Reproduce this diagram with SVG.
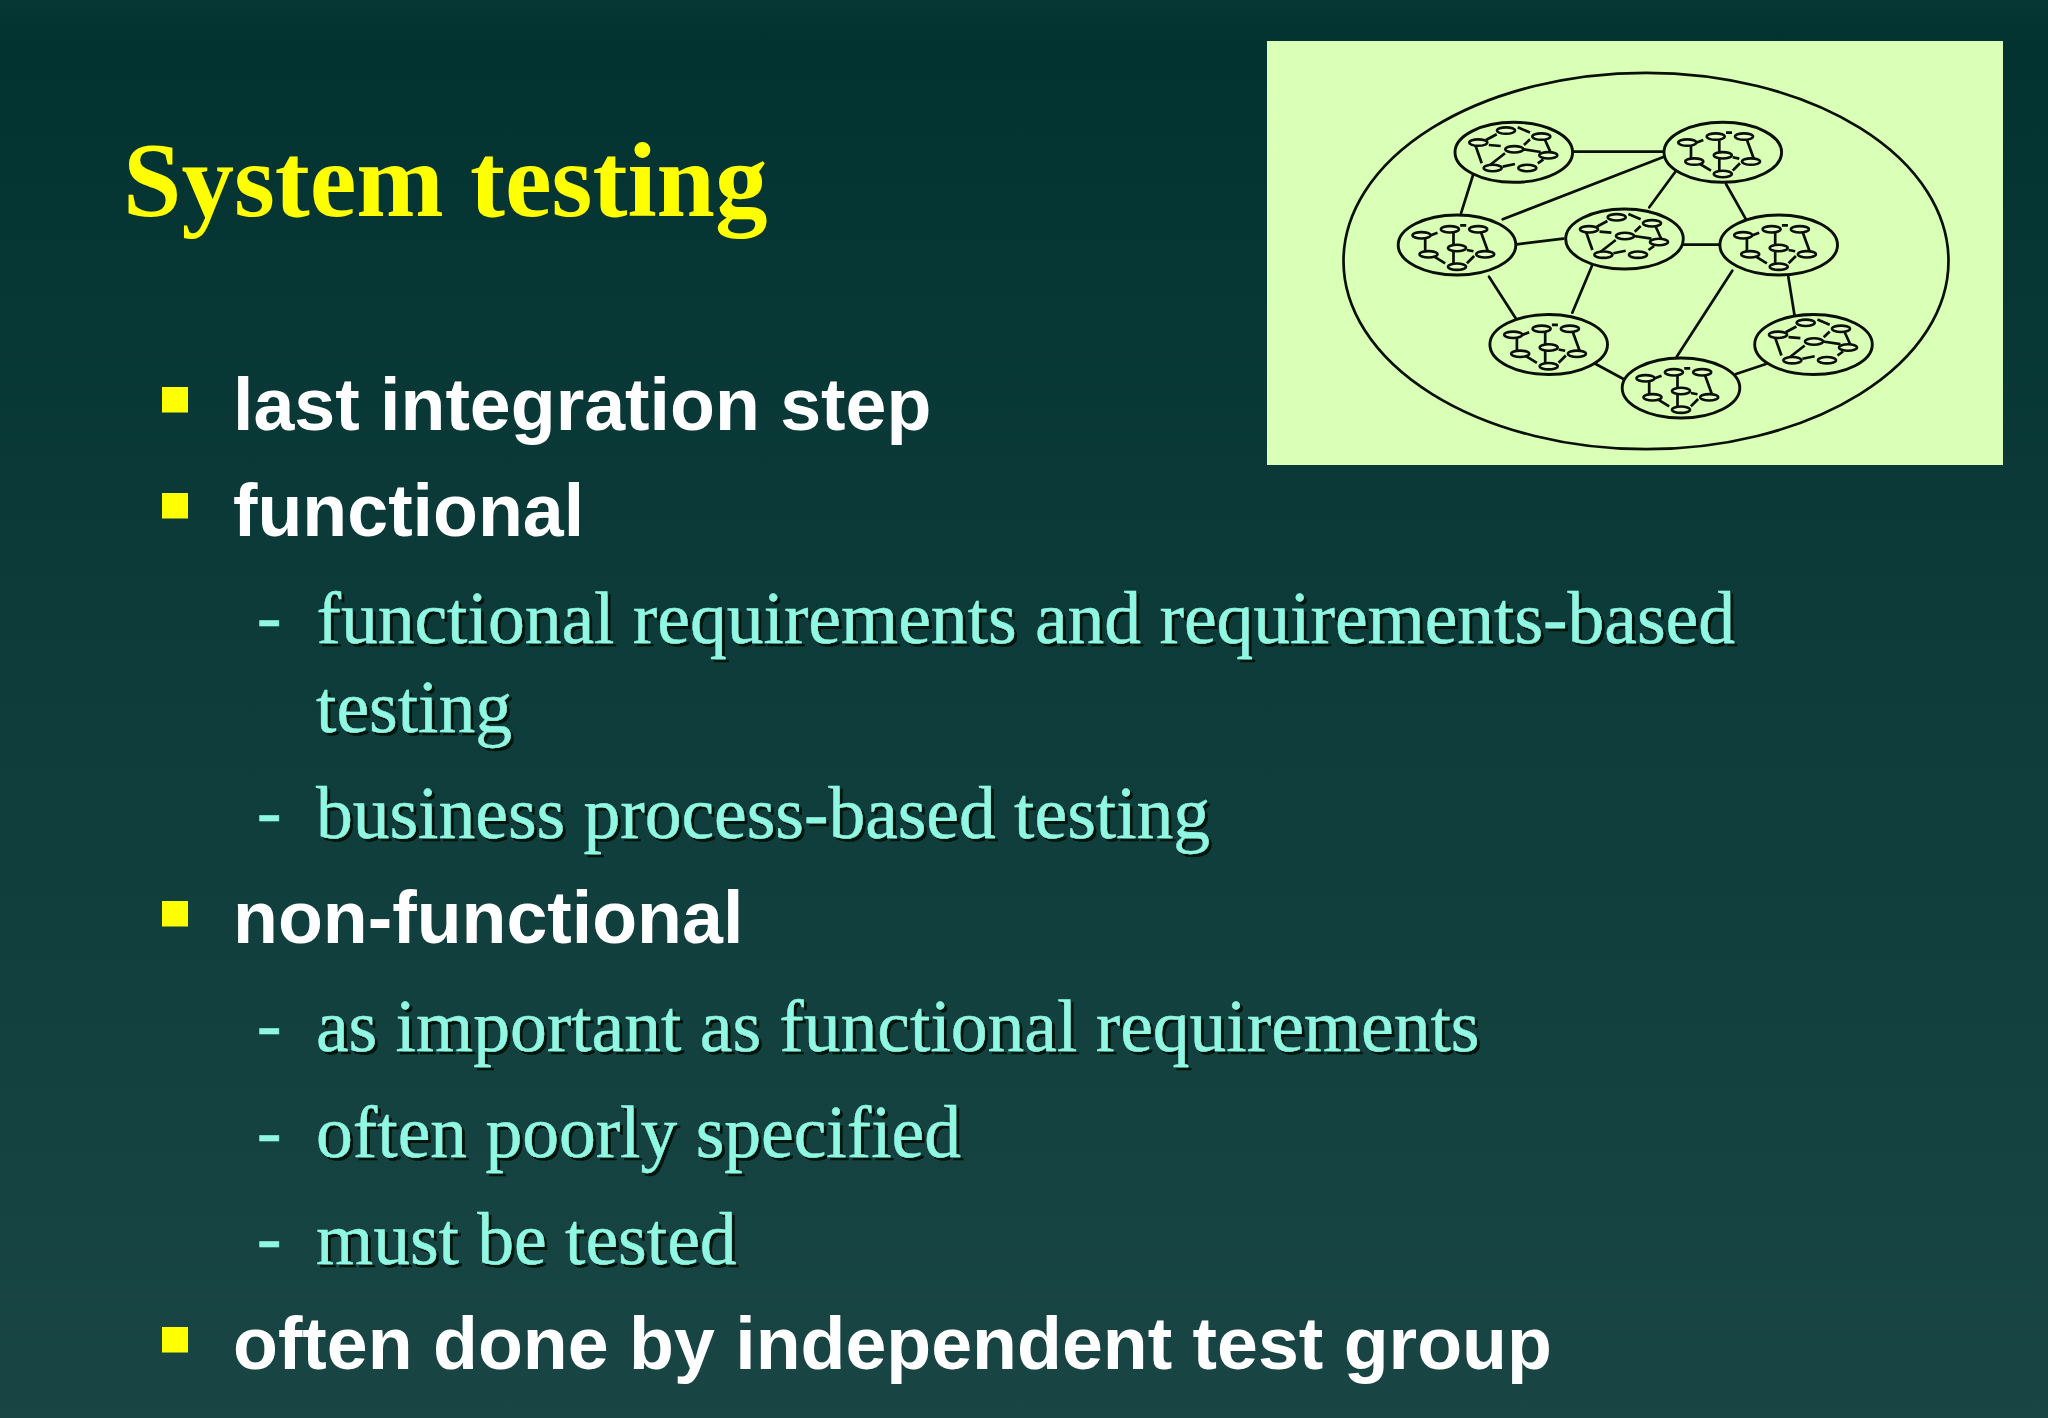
<svg xmlns="http://www.w3.org/2000/svg" xmlns:xlink="http://www.w3.org/1999/xlink" width="2048" height="1418" viewBox="0 0 2048 1418">
<style>
.title{font-family:"Liberation Serif","Times New Roman",serif;font-weight:700;font-size:105px;fill:#ffff00}
.l1{font-family:"Liberation Sans",Arial,sans-serif;font-weight:700;font-size:73.5px;fill:#ffffff}
.l2{font-family:"Liberation Serif","Times New Roman",serif;font-size:73.5px;fill:#90f7e2;stroke:#90f7e2;stroke-width:.4;filter:url(#sh)}
.d{font-family:"Liberation Serif","Times New Roman",serif;font-size:73.5px;fill:#90f7e2;stroke:#90f7e2;stroke-width:.6}
.bul{fill:#ffff00}
.ln{stroke:#0a0f08;stroke-width:2.7;fill:none;stroke-linecap:round}
.sub{stroke:#0a0f08;stroke-width:2.9;fill:#daffb6}
.ov{stroke:#0a0f08;stroke-width:2.6;fill:#e4ffc8}
.e{stroke:#0a0f08;stroke-width:2.7;fill:none}
</style>
<defs>
<linearGradient id="bg" x1="0" y1="0" x2="0" y2="1">
<stop offset="0" stop-color="#073735"/>
<stop offset="0.03" stop-color="#033331"/>
<stop offset="1" stop-color="#194644"/>
</linearGradient>
<filter id="sh" x="-5%" y="-20%" width="110%" height="140%">
<feDropShadow dx="3" dy="3" stdDeviation="0.4" flood-color="#021210"/>
</filter>
<g id="modA">
<path class="e" d="M-26.1-9.7L-19.5-12.3M3.2-19.7H9.2M-31.8-7.3V7M-3.5-13V19M23.9-13L31.2 7M9.9 5L16.5 6.3M-22.8 11.7L-11.8 18.3M17.2 11L9.9 18.3"/>
<ellipse class="ov" cx="-35.5" cy="-9.7" rx="9" ry="3.2"/>
<ellipse class="ov" cx="-7.1" cy="-15.7" rx="9" ry="3.2"/>
<ellipse class="ov" cx="21.2" cy="-15.7" rx="9" ry="3.2"/>
<ellipse class="ov" cx="0" cy="3" rx="9" ry="3.2"/>
<ellipse class="ov" cx="-28.5" cy="9.3" rx="9" ry="3.2"/>
<ellipse class="ov" cx="28.2" cy="9.3" rx="9" ry="3.2"/>
<ellipse class="ov" cx="0" cy="21.7" rx="9" ry="3.2"/>
</g>
<g id="modB">
<path class="e" d="M-27.8-12.3L-17.1-18M3.9-25L16.2-19.7M-25-7.3L-13.1-6.3M10.2-7.3L16.2-13M9.5-3L26.9-.3M30.9-13L36.9 .3M-38.5-7.3L-32.1 11M-23.8 12.7L-8.8 1M-11.1 14.3L1.2 11.7M24 11L29.6 7"/>
<ellipse class="ov" cx="-7.8" cy="-21.7" rx="9" ry="3.2"/>
<ellipse class="ov" cx="27.5" cy="-15.7" rx="9" ry="3.2"/>
<ellipse class="ov" cx="-35.5" cy="-9.7" rx="9" ry="3.2"/>
<ellipse class="ov" cx="0.5" cy="-3" rx="9" ry="3.2"/>
<ellipse class="ov" cx="34.5" cy="3" rx="9" ry="3.2"/>
<ellipse class="ov" cx="-21.1" cy="15.7" rx="9" ry="3.2"/>
<ellipse class="ov" cx="13.5" cy="15.7" rx="9" ry="3.2"/>
</g>
</defs>
<rect width="2048" height="1418" fill="url(#bg)"/>
<g id="slide-title"><text class="title" x="123" y="216">System testing</text></g>
<g id="panel">
<rect x="1267" y="41" width="736" height="424" fill="#daffb6"/>
<ellipse class="ln" cx="1646" cy="261" rx="302.5" ry="188.2"/>
</g>
<g id="connectors">
<path class="ln" d="M1565 151.7H1663"/>
<path class="ln" d="M1502.7 219.3L1662.7 157.3"/>
<path class="ln" d="M1474.3 171L1461 213.3"/>
<path class="ln" d="M1516.7 244.3L1563.3 238.7"/>
<path class="ln" d="M1649.3 207.3L1675 172.3"/>
<path class="ln" d="M1726 184L1746 219.3"/>
<path class="ln" d="M1683.3 244.7H1720"/>
<path class="ln" d="M1732.3 270.7L1676.7 356.7"/>
<path class="ln" d="M1788.3 276.7L1795 318.3"/>
<path class="ln" d="M1489 276.7L1515.7 318.3"/>
<path class="ln" d="M1592 265.7L1572.3 312.7"/>
<path class="ln" d="M1595.7 364L1626.7 380.7"/>
<path class="ln" d="M1736 374L1766 364"/>
</g>
<g id="node-a"><ellipse class="sub" cx="1513.8" cy="152.3" rx="58.8" ry="30"/><use href="#modB" x="1513.8" y="152.3"/></g>
<g id="node-b"><ellipse class="sub" cx="1722.8" cy="152.3" rx="58.8" ry="30"/><use href="#modA" x="1722.8" y="152.3"/></g>
<g id="node-c"><ellipse class="sub" cx="1457" cy="245" rx="58.8" ry="30"/><use href="#modA" x="1457" y="245"/></g>
<g id="node-d"><ellipse class="sub" cx="1624.5" cy="239" rx="58.8" ry="30"/><use href="#modB" x="1624.5" y="239"/></g>
<g id="node-e"><ellipse class="sub" cx="1778.7" cy="245" rx="58.8" ry="30"/><use href="#modA" x="1778.7" y="245"/></g>
<g id="node-f"><ellipse class="sub" cx="1548.7" cy="344.5" rx="58.8" ry="30"/><use href="#modA" x="1548.7" y="344.5"/></g>
<g id="node-g"><ellipse class="sub" cx="1681" cy="388" rx="58.8" ry="30"/><use href="#modA" x="1681" y="388"/></g>
<g id="node-h"><ellipse class="sub" cx="1813.5" cy="344.5" rx="58.8" ry="30"/><use href="#modB" x="1813.5" y="344.5"/></g>
<g id="bullets">
<rect class="bul" x="162" y="387" width="26" height="25.5"/>
<rect class="bul" x="162" y="493" width="26" height="25.5"/>
<rect class="bul" x="162" y="901" width="26" height="25.5"/>
<rect class="bul" x="162" y="1327" width="26" height="25.5"/>
</g>
<g id="text-level1">
<text class="l1" x="233" y="430">last integration step</text>
<text class="l1" x="233" y="536">functional</text>
<text class="l1" x="233" y="943">non-functional</text>
<text class="l1" x="233" y="1369">often done by independent test group</text>
</g>
<g id="text-level2">
<text class="d" x="257" y="641">-</text><text class="l2" x="316.5" y="642.5">functional requirements and requirements-based</text>
<text class="l2" x="316" y="732">testing</text>
<text class="d" x="257" y="836">-</text><text class="l2" x="316" y="837.5">business process-based testing</text>
<text class="d" x="257" y="1049">-</text><text class="l2" x="316" y="1050.5">as important as functional requirements</text>
<text class="d" x="257" y="1156">-</text><text class="l2" x="316" y="1157">often poorly specified</text>
<text class="d" x="257" y="1262">-</text><text class="l2" x="316" y="1263.5">must be tested</text>
</g>
</svg>
